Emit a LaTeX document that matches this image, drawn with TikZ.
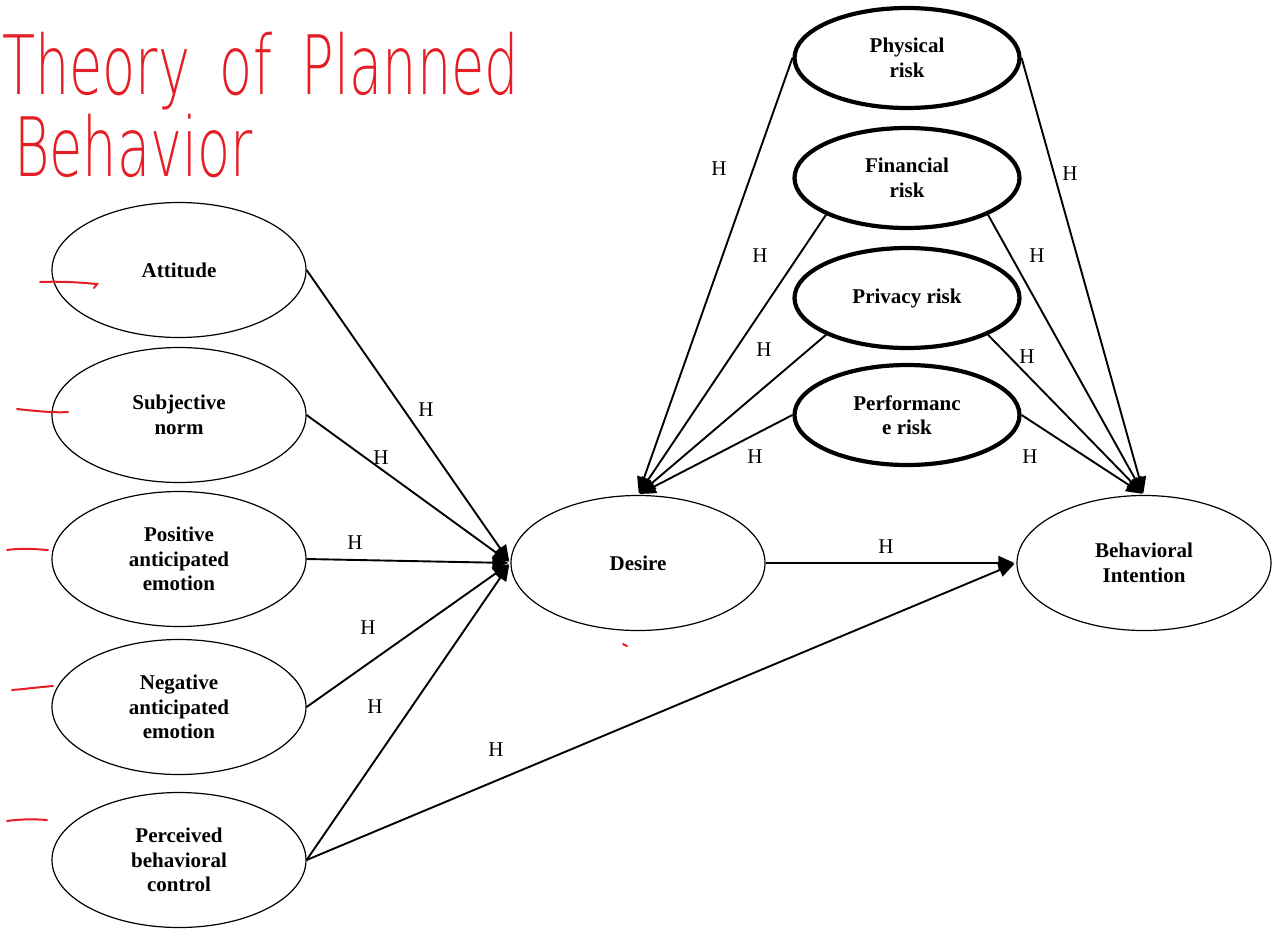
\documentclass[tikz,border=0pt]{standalone}
\usepackage{fontspec}
\setmainfont{Liberation Serif}
\newfontfamily\handfont{DejaVu Sans ExtraLight}
\usetikzlibrary{shapes.geometric,arrows.meta}
\definecolor{pen}{RGB}{228,30,36}
\begin{document}
\begin{tikzpicture}[x=1pt,y=-1pt,
  construct/.style={ellipse,draw,line width=1.2pt,minimum width=254pt,minimum height=135pt,inner sep=0pt,
    align=center,font=\fontsize{21}{24.5}\selectfont\bfseries},
  risk/.style={ellipse,draw,line width=4.2pt,minimum width=225pt,minimum height=100pt,inner sep=0pt,
    align=center,font=\fontsize{21}{24.5}\selectfont\bfseries},
  link/.style={line width=1.9pt,shorten >=2pt,-{Triangle[length=16pt,width=14pt]}},
  hlab/.style={font=\fontsize{21}{24}\selectfont,inner sep=0pt},
  hand/.style={pen,font=\fontsize{82}{90}\selectfont\handfont,inner sep=0pt,anchor=base west,xscale=0.66},
  penmark/.style={pen,line width=2pt,line cap=round}]
\useasboundingbox (0,0) rectangle (1279,930);
% handwritten title
\node[hand] (t1) at (2,94) {Theory\hspace{0.55em}of\hspace{0.55em}Planned};
\node[hand] (t2) at (14,176) {Behavior};
% left constructs
\node[construct] (att) at (179,270) {Attitude};
\node[construct] (sub) at (179,415) {Subjective\\norm};
\node[construct] (pos) at (179,559) {Positive\\anticipated\\emotion};
\node[construct] (neg) at (179,707) {Negative\\anticipated\\emotion};
\node[construct] (pbc) at (179,860) {Perceived\\behavioral\\control};
\node[construct] (des) at (638,563) {Desire};
\node[construct] (bi) at (1144,563) {Behavioral\\Intention};
% risks
\node[risk] (phy) at (907,58) {Physical\\risk};
\node[risk] (fin) at (907,178) {Financial\\risk};
\node[risk] (pri) at (907,298) {Privacy risk};
\node[risk] (per) at (907,415) {Performanc\\e risk};
% links
\draw[link] (att.east) -- (des.west);
\draw[link] (sub.east) -- (des.west);
\draw[link] (pos.east) -- (des.west);
\draw[link] (neg.east) -- (des.west);
\draw[link] (pbc.east) -- (des.west);
\draw[link] (pbc.east) -- (bi.west);
\draw[link] (des.east) -- (bi.west);
\draw[link] (phy.west) -- (des.north);
\draw[link] (fin.south west) -- (des.north);
\draw[link] (pri.south west) -- (des.north);
\draw[link] (per.west) -- (des.north);
\draw[link] (phy.east) -- (bi.north);
\draw[link] (fin.south east) -- (bi.north);
\draw[link] (pri.south east) -- (bi.north);
\draw[link] (per.east) -- (bi.north);
% H labels
\node[hlab] (h1) at (426,410) {H};
\node[hlab] (h2) at (381,458) {H};
\node[hlab] (h3) at (355,543) {H};
\node[hlab] (h4) at (368,628) {H};
\node[hlab] (h5) at (375,707) {H};
\node[hlab] (h6) at (496,750) {H};
\node[hlab] (h7) at (886,547) {H};
\node[hlab] (h8) at (719,169) {H};
\node[hlab] (h9) at (760,256) {H};
\node[hlab] (h10) at (764,350) {H};
\node[hlab] (h11) at (755,457) {H};
\node[hlab] (h12) at (1070,174) {H};
\node[hlab] (h13) at (1037,256) {H};
\node[hlab] (h14) at (1027,357) {H};
\node[hlab] (h15) at (1030,457) {H};
% red pen marks
\draw[penmark] (40,282) .. controls (65,281) and (85,283) .. (97,284) -- (94,288);
\draw[penmark] (17,409) .. controls (35,411) and (55,413) .. (68,412);
\draw[penmark] (7,550) .. controls (20,548) and (35,549) .. (48,550);
\draw[penmark] (12,690) .. controls (25,689) and (40,687) .. (53,686);
\draw[penmark] (7,821) .. controls (20,819) and (35,819) .. (47,820);
\draw[penmark] (623,644) -- (627,646);
\end{tikzpicture}
\end{document}
